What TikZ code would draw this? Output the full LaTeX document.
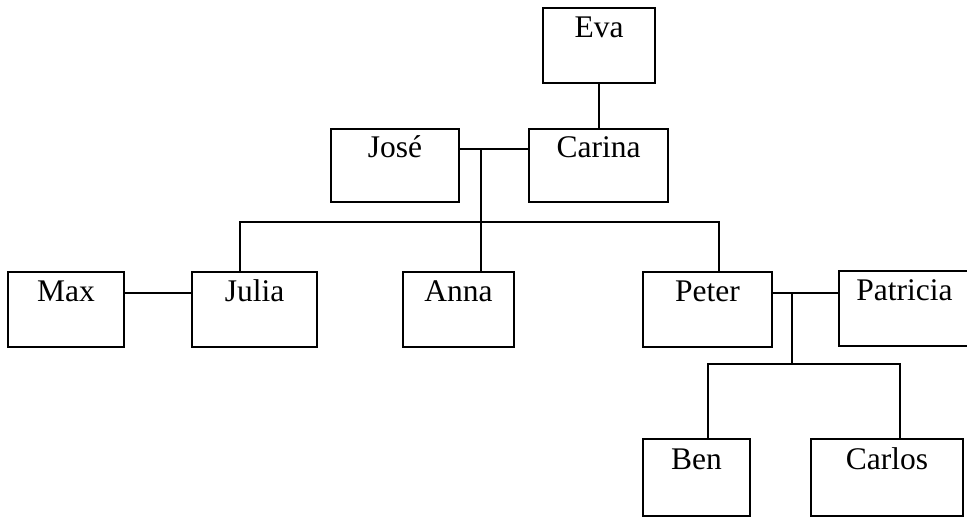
\documentclass[tikz,border=0pt]{standalone}
\usepackage{fontspec}
\setmainfont{Liberation Serif}

\begin{document}
\begin{tikzpicture}
	[x=0.5pt,y=-0.5pt,
	every node/.style={draw,rectangle,line width=0.8pt,inner sep=0pt,anchor=north,
		text height=15pt,text depth=22.5pt,font=\fontsize{15.75}{18}\selectfont},
	couple/.style={text height=14.5pt,text depth=22pt},
	young/.style={text height=15.5pt,text depth=23pt},
	link/.style={line width=0.75pt}]
	\clip (0,0) rectangle (967,516);
	
	\node[minimum width=56pt] (eva) at (599,7) {Eva};
	\node[couple,minimum width=64pt] (jose) at (395,128) {José};
	\node[couple,minimum width=69.5pt] (carina) at (598.5,128) {Carina};
	\node[minimum width=58pt] (max) at (66,271) {Max};
	\node[minimum width=62.5pt] (julia) at (254.5,271) {Julia};
	\node[minimum width=55.5pt] (anna) at (458.5,271) {Anna};
	\node[minimum width=64.5pt] (peter) at (707.5,271) {Peter};
	\node[minimum width=65.5pt] (patricia) at (904.5,270) {Patricia};
	\node[young,minimum width=53.5pt] (ben) at (696.5,438) {Ben};
	\node[young,minimum width=76pt] (carlos) at (887,438) {Carlos};
	
	\coordinate (wed1) at (481,149);
	\coordinate (wed2) at (792,293);
	\coordinate (wed3) at (121,293);
	\coordinate (kidsL) at (240,222);
	\coordinate (kidsR) at (719,222);
	\coordinate (grandL) at (708,364);
	\coordinate (grandR) at (900,364);
	
	\draw[link] (eva.south) -- (eva.south |- carina.north);
	\draw[link] (jose.east |- wed1) -- (carina.west |- wed1);
	\draw[link] (wed1) -- (wed1 |- anna.north);
	\draw[link] (kidsL |- julia.north) -- (kidsL) -- (kidsR) -- (kidsR |- peter.north);
	\draw[link] (max.east |- wed3) -- (julia.west |- wed3);
	\draw[link] (peter.east |- wed2) -- (patricia.west |- wed2);
	\draw[link] (wed2) -- (wed2 |- grandL);
	\draw[link] (grandL |- ben.north) -- (grandL) -- (grandR) -- (grandR |- carlos.north);

\end{tikzpicture}
\end{document}
